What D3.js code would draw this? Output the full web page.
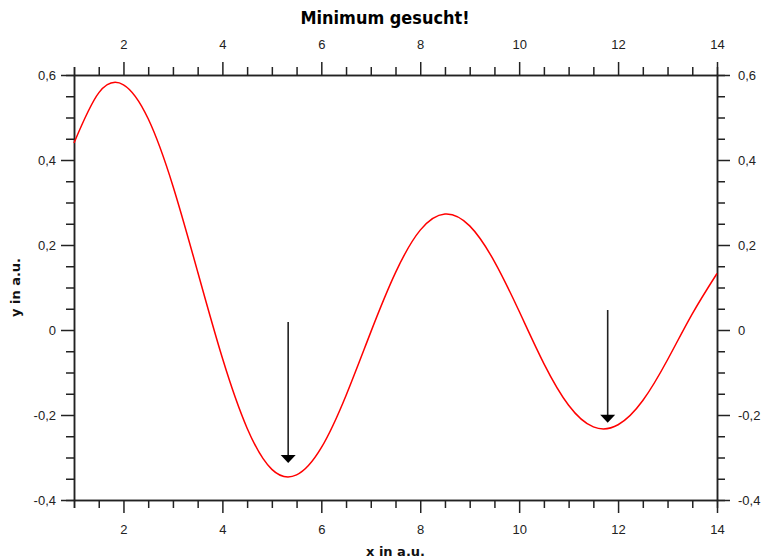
<!DOCTYPE html>
<html>
<head>
<meta charset="utf-8">
<script src="https://cdn.jsdelivr.net/npm/d3@7"></script>
<style>
body { margin: 0; background: #fff; }
svg { font-family: Tahoma, "DejaVu Sans", sans-serif; }
.axis path, .axis line { stroke: #222; stroke-width: 1.5; }
.axis text { font-size: 13px; fill: #222; }
.fontLabel { font-size: 13px; font-weight: bold; fill: #111; }
</style>
</head>
<body>
<svg id="chart" width="768" height="560"></svg>
<script>
// curve values
const xValues = [1, 1.5, 2, 2.5, 3, 3.5, 4, 4.5, 5, 5.5, 6, 6.5, 7, 7.5,
    8, 8.5, 9, 9.5, 10, 10.5, 11, 11.5, 12, 12.5, 13, 13.5, 14]
const yValues = [0.440, 0.558, 0.577, 0.497, 0.339, 0.137, -0.066, -0.231,
    -0.328, -0.341, -0.277, -0.154, -0.005, 0.135, 0.235, 0.273, 0.245,
    0.161, 0.044, -0.079, -0.177, -0.228, -0.223, -0.166, -0.070, 0.038, 0.133]

const xTicks = [2, 4, 6, 8, 10, 12, 14]
const yTicks = [-0.4, -0.2, 0, 0.2, 0.4, 0.6]

// arrows pointing at the minima
const arrowX = [5.33, 11.79]
const arrowFrom = [0.019, 0.047]
const arrowTo = [-0.313, -0.218]

const margin = {top: 75, right: 51, bottom: 60, left: 74},
    width = 768, height = 560

const svg = d3.select("#chart")

const fx = d3.scaleLinear()
    .domain([1, 14])
    .range([margin.left, width - margin.right])
const fy = d3.scaleLinear()
    .domain([-0.4, 0.6])
    .range([height - margin.bottom, margin.top])

const xMinor = d3.range(1, 14.01, 0.5).filter(v => !xTicks.includes(v))
const yMinor = d3.range(-0.4, 0.601, 0.05).map(v => +v.toFixed(2))
    .filter(v => !yTicks.some(t => Math.abs(t - v) < 1e-6))

const fmt = d => d === 0 ? "0" : d.toFixed(1).replace(".", ",")

const x0 = fx.range()[0], x1 = fx.range()[1]
const y0 = fy.range()[0], y1 = fy.range()[1]

// minor ticks first, no labels
svg.append("g").attr("class", "axis")
    .attr("transform", "translate(0," + y1 + ")")
    .call(d3.axisTop(fx).tickValues(xMinor).tickSize(8).tickFormat(""))
svg.append("g").attr("class", "axis")
    .attr("transform", "translate(0," + y0 + ")")
    .call(d3.axisBottom(fx).tickValues(xMinor).tickSize(8).tickFormat(""))
svg.append("g").attr("class", "axis")
    .attr("transform", "translate(" + x0 + ",0)")
    .call(d3.axisLeft(fy).tickValues(yMinor).tickSize(8).tickFormat(""))
svg.append("g").attr("class", "axis")
    .attr("transform", "translate(" + x1 + ",0)")
    .call(d3.axisRight(fy).tickValues(yMinor).tickSize(8).tickFormat(""))

// major ticks with labels
svg.append("g").attr("class", "axis")
    .attr("transform", "translate(0," + y1 + ")")
    .call(d3.axisTop(fx).tickValues(xTicks).tickSize(13).tickSizeOuter(0).tickPadding(13).tickFormat(d3.format("d")))
svg.append("g").attr("class", "axis")
    .attr("transform", "translate(0," + y0 + ")")
    .call(d3.axisBottom(fx).tickValues(xTicks).tickSize(13).tickSizeOuter(0).tickPadding(12).tickFormat(d3.format("d")))
svg.append("g").attr("class", "axis")
    .attr("transform", "translate(" + x0 + ",0)")
    .call(d3.axisLeft(fy).tickValues(yTicks).tickSize(13).tickSizeOuter(0).tickPadding(5).tickFormat(fmt))
svg.append("g").attr("class", "axis")
    .attr("transform", "translate(" + x1 + ",0)")
    .call(d3.axisRight(fy).tickValues(yTicks).tickSize(13).tickSizeOuter(0).tickPadding(8).tickFormat(fmt))

// the curve
const pts = xValues.map((x, i) => [x, yValues[i]])
svg.append("path")
    .datum(pts)
    .attr("fill", "none")
    .attr("stroke", "#ff0000")
    .attr("stroke-width", 1.5)
    .attr("d", d3.line()
        .x(d => fx(d[0]))
        .y(d => fy(d[1]))
        .curve(d3.curveNatural))

// arrows
arrowX.forEach((ax, i) => {
    const px = fx(ax), tip = fy(arrowTo[i])
    svg.append("line")
        .attr("x1", px).attr("x2", px)
        .attr("y1", fy(arrowFrom[i])).attr("y2", tip - 6)
        .attr("stroke", "#222")
        .attr("stroke-width", 1.6)
    svg.append("path")
        .attr("d", "M" + (px - 7.5) + "," + (tip - 8) + "L" + (px + 7.5) + "," + (tip - 8) + "L" + px + "," + tip + "Z")
        .attr("fill", "#000")
})

// titles
svg.append("text")
    .attr("x", 385)
    .attr("y", 24)
    .attr("text-anchor", "middle")
    .style("font-size", "17px")
    .style("font-weight", "bold")
    .attr("textLength", 169)
    .attr("lengthAdjust", "spacingAndGlyphs")
    .text("Minimum gesucht!")

svg.append("text")
    .attr("class", "fontLabel")
    .attr("x", (x0 + x1) / 2)
    .attr("y", 556)
    .attr("text-anchor", "middle")
    .text("x in a.u.")

svg.append("text")
    .attr("class", "fontLabel")
    .attr("transform", "translate(20," + ((y0 + y1) / 2) + ") rotate(-90)")
    .attr("text-anchor", "middle")
    .text("y in a.u.")
</script>
</body>
</html>
